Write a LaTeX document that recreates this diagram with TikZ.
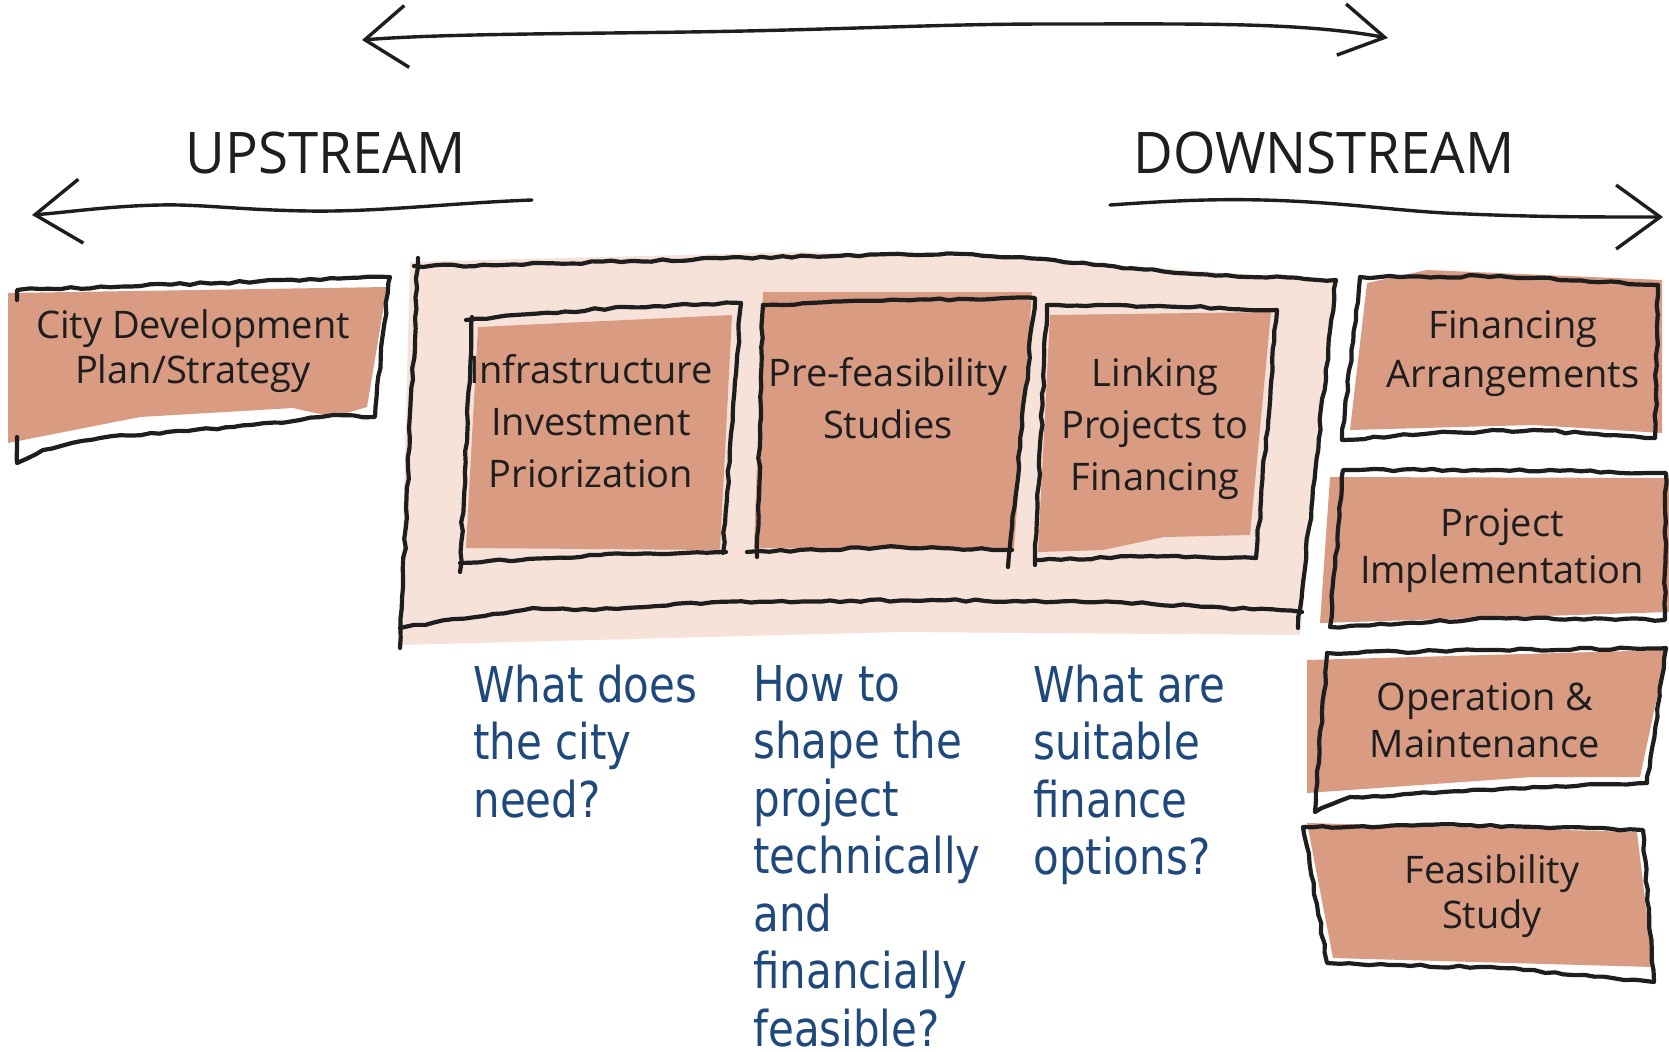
\documentclass[tikz,border=0pt]{standalone}
\usepackage{fontspec}
\setmainfont{Open Sans}
\newfontfamily\headfont[FakeStretch=0.95]{Open Sans}
\newfontfamily\qfont[FakeStretch=0.85]{DejaVu Sans}
\usetikzlibrary{arrows.meta,decorations.pathmorphing}
\definecolor{salmon}{RGB}{217,155,130}
\definecolor{pale}{RGB}{246,226,216}
\definecolor{qblue}{RGB}{31,73,125}
\definecolor{ink}{RGB}{30,30,30}
\tikzset{
  rough/.style={draw=ink, line width=2.1pt, line join=round, line cap=round,
    decorate, decoration={random steps, segment length=5pt, amplitude=0.6pt}},
  sketcharrow/.style={draw=ink, line width=1.7pt, line cap=round},
  boxtext/.style={align=center, anchor=base, inner sep=0pt, text=ink,
    font=\fontsize{19}{23.5}\selectfont},
  innertext/.style={boxtext, font=\fontsize{19}{26}\selectfont},
  question/.style={align=left, anchor=base west, inner sep=0pt, text=qblue,
    font=\qfont\fontsize{24.7}{28.75}\selectfont},
  headtext/.style={anchor=base, inner sep=0pt, text=ink,
    font=\headfont\fontsize{28.7}{34}\selectfont}
}
\pgfmathsetseed{11}
\begin{document}
\begin{tikzpicture}[x=0.5pt, y=-0.5pt]
\useasboundingbox (0,0) rectangle (1669,1051);
\fill[white] (0,0) rectangle (1669,1051);

% ---------- arrows ----------
\coordinate (topL) at (362,40);
\coordinate (topR) at (1388,38);
\coordinate (upS) at (532,200);
\coordinate (upE) at (32,215);
\coordinate (dnS) at (1110,205);
\coordinate (dnE) at (1663,217);
\draw[sketcharrow, {Straight Barb[length=21pt,width=31pt]}-{Straight Barb[length=22pt,width=26pt]}]
  (topL) .. controls (450,33) and (600,34) .. (745,31)
         .. controls (880,28) and (950,24) .. (1050,24)
         .. controls (1200,24) and (1300,22) .. (topR);
\draw[sketcharrow, -{Straight Barb[length=23pt,width=32pt]}]
  (upS) .. controls (450,203) and (380,212) .. (309,211)
        .. controls (240,210) and (200,204) .. (160,205)
        .. controls (110,206) and (70,212) .. (upE);
\draw[sketcharrow, -{Straight Barb[length=22pt,width=32pt]}]
  (dnS) .. controls (1180,200) and (1220,199) .. (1263,200)
        .. controls (1340,202) and (1390,210) .. (1445,213)
        .. controls (1530,217) and (1580,217) .. (dnE);

\node[headtext] (up) at (326,173) {UPSTREAM};
\node[headtext] (down) at (1324,173) {DOWNSTREAM};

% ---------- City Development box ----------
\fill[salmon] (8,293) -- (387,287) -- (367,407) -- (333,417) -- (293,408) -- (140,417) -- (8,443) -- cycle;
\draw[rough] (17,437) -- (17,463) -- (43,450) -- (100,438) -- (167,432) -- (233,427)
  -- (300,420) -- (333,415) -- (375,417) -- (383,333) -- (390,277) -- (17,290) -- (17,300);
\node[boxtext, font=\fontsize{19}{22.5}\selectfont] (city) at (193,383) {City Development\\Plan/Strategy};

% ---------- container ----------
\fill[pale] (410,262) -- (800,252) -- (1000,258) -- (1335,280) -- (1300,635) -- (900,632) -- (400,645) -- cycle;
\draw[rough] (400,648) -- (418,258);
\draw[rough] (414,266) -- (502,265) -- (809,256) -- (962,254) -- (1054,260) -- (1176,273) -- (1336,280) -- (1298,628);
\draw[rough] (1302,612) -- (1115,602) -- (931,600) -- (686,603) -- (594,610) -- (533,608) -- (400,628);

% inner box 1
\fill[salmon] (478,327) -- (732,315) -- (720,550) -- (466,548) -- cycle;
\draw[rough] (466,320) -- (625,307) -- (741,303) -- (723,553);
\draw[rough] (726,552) -- (600,555) -- (460,563);
\draw[rough] (460,572) -- (472,317);
\node[innertext] (infra) at (591,487) {Infrastructure\\Investment\\Priorization};

% inner box 2
\fill[salmon] (763,292) -- (1032,292) -- (1014,550) -- (754,548) -- cycle;
\draw[rough] (763,305) -- (900,300) -- (1035,298) -- (1008,567);
\draw[rough] (1012,550) -- (900,547) -- (747,552);
\draw[rough] (757,557) -- (763,305);
\node[innertext] (prefeas) at (888,438) {Pre-feasibility\\Studies};

% inner box 3
\fill[salmon] (1050,315) -- (1271,312) -- (1250,535) -- (1164,537) -- (1103,550) -- (1038,552) -- cycle;
\draw[rough] (1047,305) -- (1160,306) -- (1277,310) -- (1256,558);
\draw[rough] (1256,558) -- (1150,556) -- (1035,560);
\draw[rough] (1035,565) -- (1047,305);
\node[innertext] (linking) at (1155,490) {Linking\\Projects to\\Financing};

% ---------- right column ----------
\fill[salmon] (1367,283) -- (1427,270) -- (1662,280) -- (1662,433) -- (1533,425) -- (1350,430) -- cycle;
\draw[rough] (1360,277) -- (1500,276) -- (1658,285) -- (1655,438) -- (1533,430) -- (1433,433) -- (1342,440) -- cycle;
\node[boxtext, font=\fontsize{19}{24.5}\selectfont] (finarr) at (1513,387) {Financing\\Arrangements};

\fill[salmon] (1330,477) -- (1669,478) -- (1669,612) -- (1320,623) -- cycle;
\draw[rough] (1343,470) -- (1500,470) -- (1666,473) -- (1665,620) -- (1500,618) -- (1330,627) -- cycle;
\node[boxtext] (impl) at (1502,583) {Project\\Implementation};

\fill[salmon] (1307,660) -- (1667,650) -- (1640,777) -- (1533,777) -- (1307,793) -- cycle;
\draw[rough] (1327,653) -- (1500,650) -- (1666,648) -- (1647,783) -- (1533,787) -- (1433,793) -- (1350,797) -- (1315,812) -- cycle;
\node[boxtext] (om) at (1485,757) {Operation \&\\Maintenance};

\fill[salmon] (1307,823) -- (1637,832) -- (1653,967) -- (1333,958) -- cycle;
\draw[rough] (1303,827) -- (1470,825) -- (1643,830) -- (1654,982) -- (1500,968) -- (1327,963) -- cycle;
\node[boxtext, font=\fontsize{19}{22.5}\selectfont] (feas) at (1492,928) {Feasibility\\Study};

% ---------- questions ----------
\node[question] (q1) at (473,817) {What does\\the city\\need?};
\node[question, text depth=0pt] (q2) at (753,1046) {How to\\shape the\\project\\technically\\and\\financially\\feasible?};
\node[question] (q3) at (1033,874.5) {What are\\suitable\\finance\\options?};
\end{tikzpicture}
\end{document}
